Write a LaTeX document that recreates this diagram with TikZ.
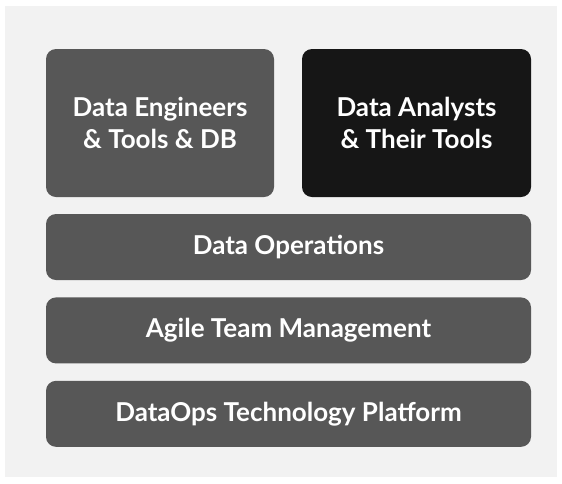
\documentclass[tikz,border=0pt]{standalone}
\usepackage{fontspec}
\setmainfont{Lato}
\usetikzlibrary{positioning}
\definecolor{cpanel}{HTML}{F2F2F2}
\definecolor{cgrey}{HTML}{575757}
\definecolor{cblack}{HTML}{161616}
\tikzset{
  every picture/.style={font=\bfseries\fontsize{26}{32}\selectfont},
  layer/.style={fill=#1, rounded corners=10pt, text=white, align=center, inner sep=0pt},
  layer/.default=cgrey,
}
\begin{document}
\begin{tikzpicture}[x=1pt, y=-1pt]
  \useasboundingbox (0,0) rectangle (562,483);
  \fill[cpanel] (5,6) rectangle (557,477);
  % top row
  \node[layer, minimum width=228pt, minimum height=148pt] (eng) at (160,123) {Data Engineers\\\& Tools \& DB};
  \node[layer=cblack, minimum width=229pt, minimum height=148pt] (ana) at (416.5,123) {Data Analysts\\\& Their Tools};
  % stacked layers
  \node[layer, minimum width=485pt, minimum height=66pt] (ops) at (288.5,247) {Data Operations};
  \node[layer, minimum width=485pt, minimum height=66pt, below=17pt of ops] (agile) {Agile Team Management};
  \node[layer, minimum width=485pt, minimum height=66pt, below=17pt of agile] (plat) {DataOps Technology Platform};
\end{tikzpicture}
\end{document}
